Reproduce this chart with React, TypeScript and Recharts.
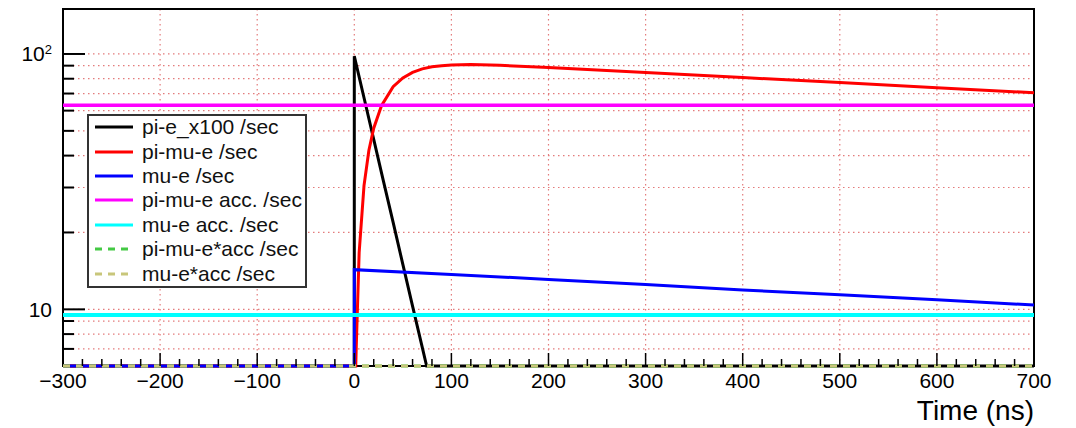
import React from 'react';
import { LineChart, Line, XAxis, YAxis, CartesianGrid, ReferenceArea, Legend } from 'recharts';

// ---- data (time in ns, rate per second) ----
const piETimes = [-300, 0, 0, 10, 20, 30, 40, 50, 60, 70, 74.5, 700];
const piEValues = [6, 6, 98, 67.4, 46.3, 31.8, 21.9, 15.0, 10.3, 7.1, 6, 6];

const piMuETimes = [-300, 1.5, 2, 5, 10, 15, 20, 28, 40, 50, 60, 70, 80, 90, 100, 120, 150, 200, 300, 400, 500, 600, 700];
const piMuEValues = [6, 6, 7.1, 16.7, 30.5, 41.9, 51.2, 62.7, 74.4, 80.6, 84.7, 87.4, 89.1, 90.0, 90.6, 90.9, 90.3, 88.6, 84.6, 80.8, 77.3, 73.8, 70.5];

const muETimes = [-300, 0, 0, 100, 200, 300, 400, 500, 600, 700];
const muEValues = [6, 6, 14.3, 13.7, 13.1, 12.5, 11.9, 11.4, 10.9, 10.4];

const rangeTimes = [-300, 700];
const piMuEAccValues = [63, 63];
const muEAccValues = [9.5, 9.5];
const piMuEProdValues = [6, 6];
const muEProdValues = [6, 6];

const seriesNames = [
  'pi-e_x100 /sec',
  'pi-mu-e /sec',
  'mu-e /sec',
  'pi-mu-e acc. /sec',
  'mu-e acc. /sec',
  'pi-mu-e*acc /sec',
  'mu-e*acc /sec',
];
const seriesColors = ['#000000', '#ff0000', '#0000ff', '#ff00ff', '#00ffff', '#44c944', '#c8c67a'];
const seriesDashed = [false, false, false, false, false, true, true];
const seriesWidths = [3, 3, 3, 3.5, 4, 3, 3];

// ---- ticks ----
const xDomain = [-300, 700];
const yDomain = [6, 150];
const xTicks = Array.from({ length: 51 }, (_, i) => -300 + 20 * i);
const xGridTicks = [-200, -100, 0, 100, 200, 300, 400, 500, 600];
const yTicks = [7, 8, 9, 10, 20, 30, 40, 50, 60, 70, 80, 90, 100];
const yMajorTicks = [10, 100];

const FONT = '"Liberation Sans", Arial, Helvetica, sans-serif';

const toPoints = (ts: number[], vs: number[]) => ts.map((t, i) => ({ t, v: vs[i] }));

const seriesData = [
  toPoints(piETimes, piEValues),
  toPoints(piMuETimes, piMuEValues),
  toPoints(muETimes, muEValues),
  toPoints(rangeTimes, piMuEAccValues),
  toPoints(rangeTimes, muEAccValues),
  toPoints(rangeTimes, piMuEProdValues),
  toPoints(rangeTimes, muEProdValues),
];

const verticalGrid = (props: any) => {
  const xAxis = props?.xAxis;
  const offset = props?.offset;
  if (xAxis && typeof xAxis.scale === 'function') {
    return xGridTicks.map((v) => xAxis.scale(v));
  }
  return xGridTicks.map(
    (v) => offset.left + ((v - xDomain[0]) / (xDomain[1] - xDomain[0])) * offset.width
  );
};

const XTick = (props: any) => {
  const { x, y, payload } = props;
  const v = payload.value as number;
  const major = v % 100 === 0;
  const len = major ? 13 : 7;
  const inside = v > xDomain[0] && v < xDomain[1];
  return (
    <g>
      {inside && <line x1={x} x2={x} y1={y} y2={y - len} stroke="#000" strokeWidth={1.5} />}
      {major && (
        <text x={x} y={y + 22} textAnchor="middle" fontSize={21} fontFamily={FONT} fill="#000">
          {v < 0 ? '\u2212' + Math.abs(v) : String(v)}
        </text>
      )}
    </g>
  );
};

const YTick = (props: any) => {
  const { x, y, payload } = props;
  const v = payload.value as number;
  const major = yMajorTicks.includes(v);
  const len = major ? 22 : 11;
  return (
    <g>
      <line x1={x} x2={x + len} y1={y} y2={y} stroke="#000" strokeWidth={2} />
      {v === 10 && (
        <text x={x - 11} y={y + 7.5} textAnchor="end" fontSize={21} fontFamily={FONT} fill="#000">
          10
        </text>
      )}
      {v === 100 && (
        <text x={x - 11} y={y + 7.5} textAnchor="end" fontSize={21} fontFamily={FONT} fill="#000">
          <tspan>10</tspan>
          <tspan dy={-7} fontSize={13}>2</tspan>
        </text>
      )}
    </g>
  );
};

const TimeLabel = (props: any) => {
  const vb = props.viewBox || { x: 63, y: 366, width: 971, height: 62 };
  return (
    <text x={vb.x + vb.width} y={vb.y + 54} textAnchor="end" fontSize={28} fontFamily={FONT} fill="#000">
      Time (ns)
    </text>
  );
};

const LegendBox = () => (
  <div
    style={{
      width: 220,
      height: 174,
      boxSizing: 'border-box',
      border: '2px solid #333',
      background: '#fff',
      overflow: 'hidden',
    }}
  >
    <div style={{ marginTop: -1 }}>
      {seriesNames.map((name, i) => (
        <div key={name} style={{ height: 24.4, display: 'flex', alignItems: 'center' }}>
          <svg width={50} height={10} style={{ display: 'block', flex: 'none' }}>
            <line
              x1={6}
              x2={44}
              y1={5}
              y2={5}
              stroke={seriesColors[i]}
              strokeWidth={3}
              strokeDasharray={seriesDashed[i] ? '7 6' : undefined}
            />
          </svg>
          <span
            style={{
              marginLeft: 3,
              fontSize: 21,
              fontFamily: FONT,
              color: '#111',
              whiteSpace: 'nowrap',
              lineHeight: '24px',
            }}
          >
            {name}
          </span>
        </div>
      ))}
    </div>
  </div>
);

export default function App() {
  return (
    <div style={{ position: 'absolute', left: 0, top: 0, width: 1076, height: 428, background: '#fff' }}>
      <LineChart width={1076} height={428} margin={{ top: 9, right: 42, bottom: 0, left: 3 }}>
        <CartesianGrid
          stroke="#e37b7b"
          strokeDasharray="1.5 3.5"
          strokeWidth={1.2}
          verticalCoordinatesGenerator={verticalGrid}
        />
        <ReferenceArea
          x1={xDomain[0]}
          x2={xDomain[1]}
          y1={yDomain[0]}
          y2={yDomain[1]}
          fill="none"
          fillOpacity={0}
          stroke="#000"
          strokeWidth={2}
          ifOverflow="visible"
        />
        <XAxis
          type="number"
          dataKey="t"
          domain={xDomain}
          ticks={xTicks}
          interval={0}
          height={62}
          tickSize={0}
          tickMargin={0}
          tickLine={false}
          axisLine={false}
          tick={<XTick />}
          label={{ content: <TimeLabel /> } as any}
        />
        <YAxis
          type="number"
          scale="log"
          domain={yDomain}
          ticks={yTicks}
          interval={0}
          width={60}
          tickSize={0}
          tickMargin={0}
          tickLine={false}
          axisLine={false}
          tick={<YTick />}
        />
        {seriesData.map((d, i) => (
          <Line
            key={seriesNames[i]}
            data={d}
            dataKey="v"
            name={seriesNames[i]}
            type="linear"
            stroke={seriesColors[i]}
            strokeWidth={seriesWidths[i]}
            strokeDasharray={seriesDashed[i] ? '7 6' : undefined}
            dot={false}
            activeDot={false}
            isAnimationActive={false}
          />
        ))}
        <Legend
          layout="horizontal"
          align="center"
          verticalAlign="middle"
          wrapperStyle={{ left: 87, top: 114, width: 220, height: 174 }}
          content={() => <LegendBox />}
        />
      </LineChart>
    </div>
  );
}
